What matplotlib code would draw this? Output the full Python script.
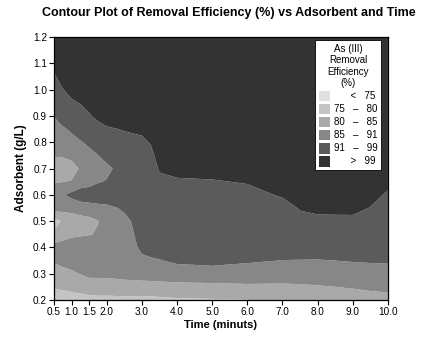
import numpy as np
import matplotlib
matplotlib.use("Agg")
import matplotlib.pyplot as plt
from matplotlib.patches import Patch

plt.rcParams['font.family'] = ['Liberation Sans', 'DejaVu Sans']

# Time (minutes) grid columns
time_x = [0.5, 0.75, 1.0, 1.25, 1.5, 1.75, 2.0, 2.5, 3.0, 3.25, 3.5, 4.0, 5.0, 6.0, 7.0, 7.5, 8.0, 9.0, 9.5, 10.0]
# Adsorbent (g/L) grid rows
ads_y = [0.20, 0.25, 0.30, 0.35, 0.40, 0.45, 0.50, 0.55, 0.60, 0.65, 0.70,
         0.75, 0.80, 0.85, 0.90, 0.95, 1.00, 1.05, 1.10, 1.15, 1.20]

# Removal efficiency (%) estimated along each time column (bottom -> top)
col_050 = [77.5, 80.5, 83, 85.5, 87, 81.1, 78, 87.5, 89, 84.5, 82.5, 85.3, 87.2, 89.2, 91.2, 93.5, 95.9, 98.2, 100.5, 102.5, 104]
col_075 = [78.5, 80.5, 83.5, 86.5, 87.5, 82.5, 80.5, 87, 90.5, 84.8, 83, 85.4, 87.9, 90.4, 93.2, 96.1, 98.8, 101.5, 103, 104.5, 105.5]
col_100 = [79, 80.6, 84.3, 86.8, 88, 84, 81.5, 87.3, 92.5, 85.5, 81.3, 87.5, 89.6, 91.7, 94, 98.2, 100.8, 102.5, 104, 105, 106]
col_125 = [79.5, 80.5, 85.2, 87.5, 88.5, 84.3, 82.5, 88.2, 94, 88, 86, 88, 90.6, 93.5, 96, 99.3, 101.5, 103, 104.5, 105.5, 106.5]
col_150 = [79.7, 80.5, 87.1, 88.5, 89, 84.7, 83.5, 88.2, 95.2, 88.2, 88, 89.5, 92, 95, 98.4, 100.8, 102.5, 104, 105, 106, 107]
col_175 = [79.8, 80.4, 87.2, 88.5, 88, 85.5, 84.8, 88.5, 96.3, 90.4, 89, 90.9, 93.5, 96.5, 100.7, 102.5, 104, 105, 106, 107, 107.5]
col_200 = [79.8, 80.4, 87.2, 88, 87.5, 87, 87.5, 89.5, 95.3, 91.5, 89, 94, 96.5, 98.6, 100.6, 102.5, 104, 105.5, 106.5, 107.5, 108]
col_250 = [79.8, 80.5, 88.8, 88.5, 88, 88.5, 89.5, 91.9, 93, 94, 95, 96.5, 98, 99.2, 101, 103, 104.5, 105.5, 106.5, 107.5, 108]
col_300 = [79, 82.3, 88, 90, 92, 93, 93.5, 94, 94.5, 95.5, 96.5, 97.5, 98.5, 99.5, 101, 103, 104.5, 105.5, 106.5, 107.5, 108]
col_325 = [79.1, 82.4, 88.2, 90.5, 92.5, 93.8, 94.5, 95.2, 95.8, 96.5, 97.2, 98, 99.2, 100.5, 102, 103.5, 105, 106, 106.8, 107.5, 108]
col_350 = [79.2, 82.6, 88.5, 90.8, 93, 94.5, 95.5, 96.5, 97.3, 98.2, 99.35, 100.5, 101.5, 102.5, 103.5, 104.5, 105.3, 106, 106.8, 107.5, 108]
col_400 = [79.5, 82.9, 89, 91.7, 94, 95.5, 96.3, 97, 97.7, 98.5, 100.2, 101.5, 102.5, 103.5, 104.3, 105, 105.7, 106.3, 107, 107.5, 108]
col_500 = [79.7, 83.2, 89.5, 92, 94.5, 95.8, 96.6, 97.3, 98, 98.8, 100, 101.5, 102.5, 103.5, 104.3, 105, 105.7, 106.3, 107, 107.5, 108]
col_600 = [79.9, 84, 88.5, 91.6, 94, 95.5, 96.5, 97.3, 98.1, 99.2, 100.5, 101.7, 102.7, 103.5, 104.3, 105, 105.7, 106.3, 107, 107.5, 108]
col_700 = [81.5, 84, 88, 90.9, 93.5, 95.5, 96.8, 98, 99.3, 100.5, 101.5, 102.3, 103, 103.7, 104.4, 105, 105.7, 106.3, 107, 107.5, 108]
col_750 = [81.8, 84.2, 88, 90.8, 94, 96.5, 98.2, 99.2, 100.5, 101.5, 102.2, 102.8, 103.4, 104, 104.5, 105.1, 105.7, 106.3, 107, 107.5, 108]
col_800 = [82, 84.6, 88, 90.7, 94.5, 97, 98.4, 99.6, 100.8, 101.7, 102.4, 103, 103.5, 104, 104.5, 105.1, 105.7, 106.3, 107, 107.5, 108]
col_900 = [82.5, 85.4, 88.5, 91.3, 94, 96.3, 98.3, 99.8, 100.8, 101.6, 102.3, 102.9, 103.5, 104, 104.5, 105.1, 105.7, 106.3, 107, 107.5, 108]
col_950 = [82.8, 86, 88.8, 91.5, 94, 96, 97.6, 98.9, 100, 101, 101.9, 102.6, 103.3, 104, 104.5, 105.1, 105.7, 106.3, 107, 107.5, 108]
col_1000 = [83, 86.5, 89, 91.6, 93.5, 95, 96.3, 97.5, 98.6, 99.8, 101, 102, 102.8, 103.5, 104, 104.6, 105.2, 105.8, 106.5, 107, 107.5]

columns = [col_050, col_075, col_100, col_125, col_150, col_175, col_200, col_250,
           col_300, col_325, col_350, col_400, col_500, col_600, col_700, col_750,
           col_800, col_900, col_950, col_1000]

levels = [60, 75, 80, 85, 91, 99, 120]
legend_labels = ["      <   75", "75   –   80", "80   –   85", "85   –   91", "91   –   99", "      >   99"]
colors = ['#e0e0e0', '#c4c4c4', '#a9a9a9', '#878787', '#5b5b5b', '#333333']

xticks = [0.5, 1.0, 1.5, 2.0, 3.0, 4.0, 5.0, 6.0, 7.0, 8.0, 9.0, 10.0]
xticklabels = ['0.5', '1.0', '1.5', '2.0', '3.0', '4.0', '5.0', '6.0', '7.0', '8.0', '9.0', '10.0']
yticks = [0.2, 0.3, 0.4, 0.5, 0.6, 0.7, 0.8, 0.9, 1.0, 1.1, 1.2]

Z = np.column_stack(columns)

fig = plt.figure(figsize=(4.32, 3.38), dpi=100)
ax = fig.add_axes([0.125, 0.1124, 0.773, 0.778])
ax.contourf(time_x, ads_y, Z, levels=levels, colors=colors, antialiased=True)
ax.set_xlim(0.5, 10.0)
ax.set_ylim(0.2, 1.2)
ax.set_xticks(xticks)
ax.set_xticklabels(xticklabels)
ax.set_yticks(yticks)
ax.set_yticklabels([f"{v:.1f}" for v in yticks])
ax.tick_params(axis='both', labelsize=7.2, length=3.5, width=0.8, direction='out', pad=1.5)
for s in ax.spines.values():
    s.set_linewidth(0.9)
    s.set_color('black')

ax.set_xlabel("Time (minuts)", fontsize=8, fontweight='bold', labelpad=2)
ax.set_ylabel("Adsorbent (g/L)", fontsize=8.5, fontweight='bold', labelpad=4)
fig.suptitle("Contour Plot of Removal Efficiency (%) vs Adsorbent and Time",
             fontsize=9, fontweight='bold', x=0.53, y=0.98)

handles = [Patch(facecolor=c, edgecolor='none') for c in colors]
leg = ax.legend(handles, legend_labels, title="As (III)\nRemoval\nEfficiency\n(%)",
                loc='upper right', bbox_to_anchor=(0.98, 0.99), borderaxespad=0,
                fontsize=7, title_fontsize=7, frameon=True, fancybox=False,
                edgecolor='black', framealpha=1, handlelength=1.1, handleheight=1.3,
                handletextpad=0.4, labelspacing=0.25, borderpad=0.4)
leg.get_frame().set_linewidth(0.6)
leg.get_title().set_multialignment('center')

fig.savefig("out.png", dpi=100)
